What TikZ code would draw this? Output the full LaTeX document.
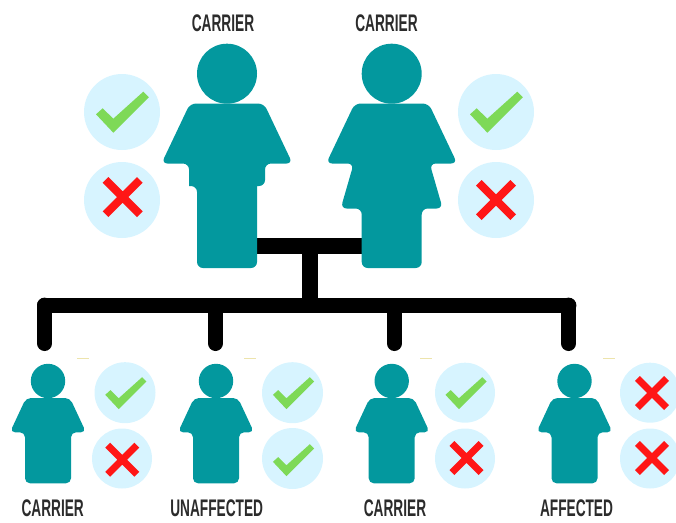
\documentclass[tikz,border=0pt]{standalone}
\usepackage{fontspec}
\newfontfamily\labelfont[FakeStretch=0.57]{Liberation Sans Bold}
\definecolor{bodyteal}{HTML}{03989E}
\definecolor{discblue}{HTML}{D7F4FF}
\definecolor{tickgreen}{HTML}{7ED957}
\definecolor{crossred}{HTML}{FF1616}
\definecolor{labelgrey}{HTML}{2B2B2B}
\definecolor{dashyellow}{HTML}{EDE4AC}
\tikzset{
  head/.style={circle,fill=bodyteal,inner sep=0pt,minimum size=#1},
  disc/.style={circle,fill=discblue,inner sep=0pt,minimum size=#1},
  caption/.style={text=labelgrey,inner sep=0pt,font=\labelfont\fontsize{24}{24}\selectfont},
  bar/.style={line width=15.4pt,black},
  roundbar/.style={bar,line cap=round},
  tick/.pic={\fill[tickgreen] (-27,2.3) -- (-20.3,-3.7) -- (-9.7,6.7) -- (20.3,-20.3) -- (25.8,-14.7) -- (-9.7,20.7) -- cycle;},
  cross/.pic={\fill[crossred] (-20,-14.3) -- (-14.3,-20) -- (0,-5.7) -- (14.3,-20) -- (20,-14.3) -- (5.7,0) -- (20,14.3) -- (14.3,20) -- (0,5.7) -- (-14.3,20) -- (-20,14.3) -- (-5.7,0) -- cycle;},
  bigman/.pic={\fill[bodyteal,rounded corners=6pt] (0,0) -- (37,0) -- (65.5,60) -- (38,60) -- (38,82.5) [sharp corners] -- (30,82.5) [rounded corners=6pt] -- (30,164.5) -- (-30,164.5) -- (-30,82.5) [sharp corners] -- (-38,82.5) [rounded corners=6pt] -- (-38,60) -- (-65.5,60) -- (-37,0) -- cycle;},
  bigwoman/.pic={\fill[bodyteal,rounded corners=6pt] (0,0) -- (37,0) -- (65.5,60) -- (38,60) -- (51,105) -- (30,105) -- (30,164.5) -- (-30,164.5) -- (-30,105) -- (-51,105) -- (-38,60) -- (-65.5,60) -- (-37,0) -- cycle;},
  smallbody/.pic={\fill[bodyteal,rounded corners=5pt] (0,0) -- (22,0) -- (38,34.3) -- (23,34.3) -- (23,85.3) -- (-23,85.3) -- (-23,34.3) -- (-38,34.3) -- (-22,0) -- cycle;}
}
\begin{document}
\begin{tikzpicture}[x=1pt,y=-1pt]
\clip (0,0) rectangle (676,522);
% connectors
\coordinate (coupleL) at (250,245.8);
\coordinate (coupleR) at (370,245.8);
\coordinate (coupleM) at (310,245.8);
\coordinate (busM) at (310,305.3);
\coordinate (busL) at (44.7,305.3);
\coordinate (busR) at (568.7,305.3);
\coordinate (dropA) at (44.7,343.3);
\coordinate (dropB) at (215.5,343.3);
\coordinate (dropC) at (394.3,343.3);
\coordinate (dropD) at (568.7,343.3);
\coordinate (busB) at (215.5,309);
\coordinate (busC) at (394.3,309);
\draw[bar] (coupleL) -- (coupleR);
\draw[bar] (coupleM) -- (busM);
\draw[roundbar] (busL) -- (busR);
\draw[roundbar] (busL) -- (dropA);
\draw[roundbar] (busB) -- (dropB);
\draw[roundbar] (busC) -- (dropC);
\draw[roundbar] (busR) -- (dropD);
% small yellow dashes
\foreach \x in {77,244,420,603}
  \draw[dashyellow,line width=.8pt] (\x,358.3) -- ++(11.5,0);
% parents
\path (227,73.7) node(headF) [head=60pt]{};
\path (391.7,73.7) node(headM) [head=60pt]{};
\path (227,103.5) pic {bigman};
\path (391.7,103.5) pic {bigwoman};
\path (223,22.8) node(capF) [caption]{CARRIER};
\path (386.5,22.8) node(capM) [caption]{CARRIER};
\path (122,112) node(discFa) [disc=76pt]{} (122,200) node(discFb) [disc=76pt]{};
\path (496,112) node(discMa) [disc=76pt]{} (496,200) node(discMb) [disc=76pt]{};
\path (123,112) pic {tick};
\path (122.7,197) pic {cross};
\path (497,112) pic {tick};
\path (496,200) pic {cross};
% children
\foreach \x/\nm in {48/A,216/B,391.7/C,574.5/D}{
  \path (\x,381) node(head\nm) [head=34.4pt]{};
  \path (\x,398) pic {smallbody};
}
\path (52.7,508.5) node(capA) [caption]{CARRIER};
\path (216.7,508.5) node(capB) [caption]{UNAFFECTED};
\path (395,508.5) node(capC) [caption]{CARRIER};
\path (576.5,508.5) node(capD) [caption]{AFFECTED};
\path (125,392.7) node(discAa) [disc=61pt]{} (122,458.5) node(discAb) [disc=60pt]{};
\path (292.5,392.7) node(discBa) [disc=61pt]{} (292.5,458.5) node(discBb) [disc=61pt]{};
\path (465,392.7) node(discCa) [disc=60pt]{} (465,458.5) node(discCb) [disc=60pt]{};
\path (650,392.7) node(discDa) [disc=60pt]{} (650,458.5) node(discDb) [disc=60pt]{};
\path (126.3,393) pic[scale=.78] {tick};
\path (122.3,459.7) pic[scale=.85] {cross};
\path (294,393) pic[scale=.78] {tick};
\path (294,460) pic[scale=.78] {tick};
\path (466.5,393) pic[scale=.78] {tick};
\path (466.5,458) pic[scale=.85] {cross};
\path (652,393) pic[scale=.85] {cross};
\path (652,458) pic[scale=.85] {cross};
\end{tikzpicture}
\end{document}
